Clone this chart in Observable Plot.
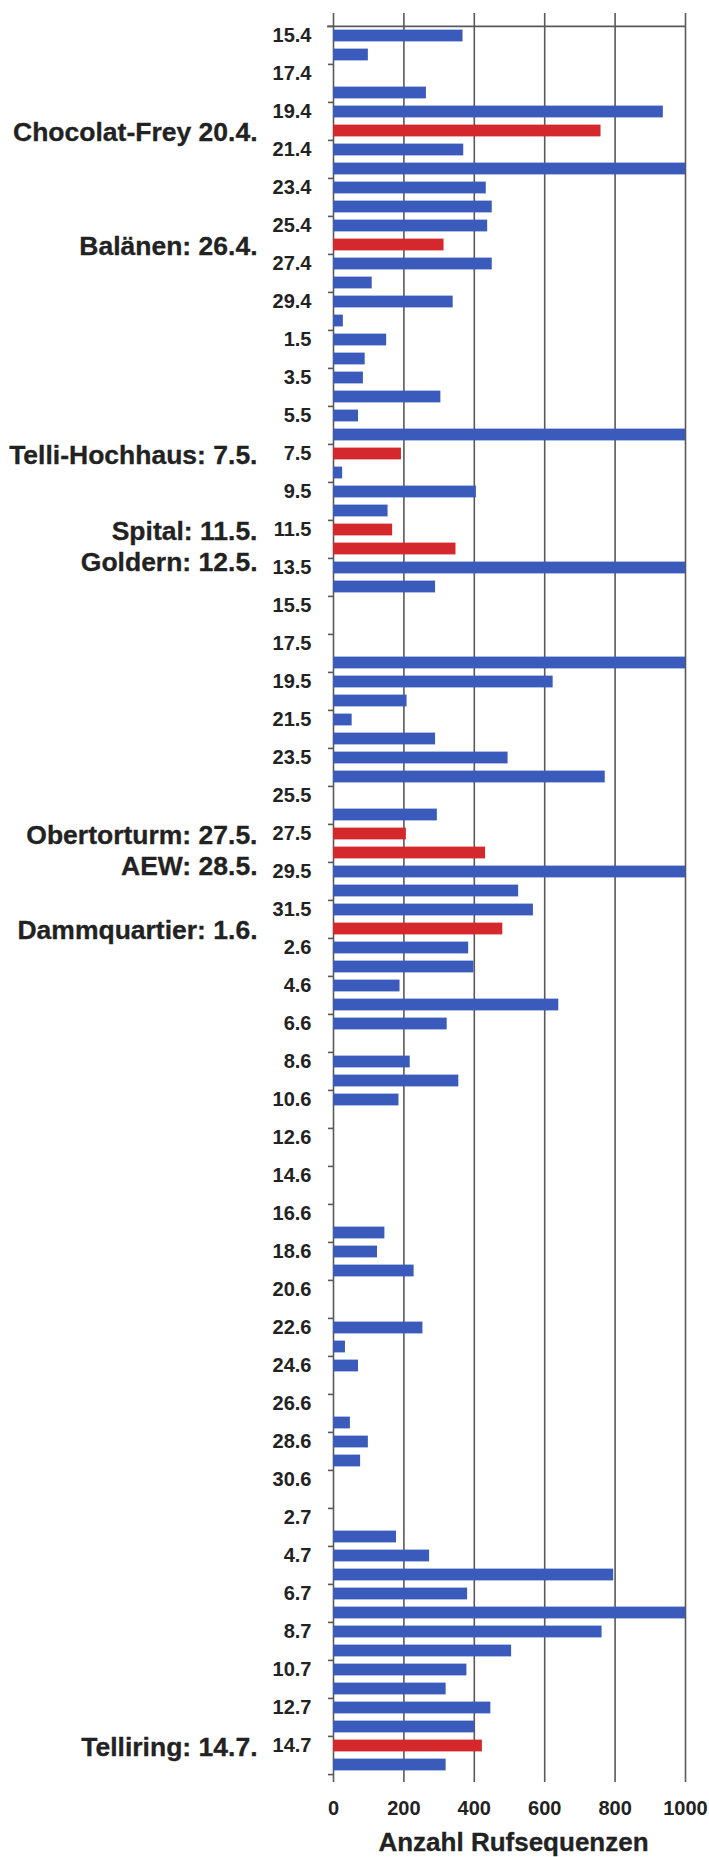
<!DOCTYPE html>
<html>
<head>
<meta charset="utf-8">
<script src="https://cdn.jsdelivr.net/npm/d3@7"></script>
<script src="https://cdn.jsdelivr.net/npm/@observablehq/plot@0.6"></script>
<style>
  html, body { margin: 0; padding: 0; background: #fff; }
  #chart svg { display: block; }
</style>
</head>
<body>
<div id="chart"></div>
<script>
// ---- data ----
const dates = [
  "15.4","16.4","17.4","18.4","19.4","20.4","21.4","22.4","23.4","24.4","25.4","26.4","27.4","28.4","29.4","30.4",
  "1.5","2.5","3.5","4.5","5.5","6.5","7.5","8.5","9.5","10.5","11.5","12.5","13.5","14.5","15.5","16.5",
  "17.5","18.5","19.5","20.5","21.5","22.5","23.5","24.5","25.5","26.5","27.5","28.5","29.5","30.5","31.5",
  "1.6","2.6","3.6","4.6","5.6","6.6","7.6","8.6","9.6","10.6","11.6","12.6","13.6","14.6","15.6",
  "16.6","17.6","18.6","19.6","20.6","21.6","22.6","23.6","24.6","25.6","26.6","27.6","28.6","29.6","30.6",
  "1.7","2.7","3.7","4.7","5.7","6.7","7.7","8.7","9.7","10.7","11.7","12.7","13.7","14.7","15.7"
];
const counts = [
  368, 99, 0, 264, 937, 760, 370, 1000, 434, 451, 438, 314, 451, 110, 340, 28,
  151, 90, 85, 305, 71, 1000, 193, 26, 406, 155, 168, 348, 1000, 290, 0, 0,
  0, 1000, 624, 209, 53, 290, 496, 772, 0, 295, 207, 432, 1000, 526, 568,
  481, 384, 399, 189, 640, 323, 0, 218, 356, 186, 0, 0, 0, 0, 0,
  0, 146, 125, 229, 0, 0, 254, 34, 71, 0, 0, 48, 99, 77, 0,
  0, 0, 179, 273, 796, 381, 1000, 763, 506, 379, 320, 447, 401, 423, 320
];
const highlighted = ["20.4","26.4","7.5","11.5","12.5","27.5","28.5","1.6","14.7"];
const yTickLabels = [
  "15.4","17.4","19.4","21.4","23.4","25.4","27.4","29.4",
  "1.5","3.5","5.5","7.5","9.5","11.5","13.5","15.5","17.5","19.5","21.5","23.5","25.5","27.5","29.5","31.5",
  "2.6","4.6","6.6","8.6","10.6","12.6","14.6","16.6","18.6","20.6","22.6","24.6","26.6","28.6","30.6",
  "2.7","4.7","6.7","8.7","10.7","12.7","14.7"
];
const xTicks = [0, 200, 400, 600, 800, 1000];
const annotationLabels = [
  "Chocolat-Frey 20.4.", "Balänen: 26.4.", "Telli-Hochhaus: 7.5.", "Spital: 11.5.",
  "Goldern: 12.5.", "Obertorturm: 27.5.", "AEW: 28.5.", "Dammquartier: 1.6.", "Telliring: 14.7."
];
const annotationDates = ["20.4","26.4","7.5","11.5","12.5","27.5","28.5","1.6","14.7"];
const loweredAnnotations = ["Goldern: 12.5.", "AEW: 28.5."];
const xTitle = "Anzahl Rufsequenzen";

// ---- layout / style ----
const W = 709, H = 1857;
const mTop = 18.4, mBottom = 75, mLeft = 333, mRight = 24;
const step = (H - mTop - mBottom) / dates.length;
const blue = "#3a5bbb", red = "#d4282c", grid = "#595959", ink = "#222";
const font = "'Liberation Sans', Arial, Helvetica, sans-serif";

const rows = dates.map((d, i) => ({date: d, count: counts[i], red: highlighted.includes(d)}));
const notes = annotationLabels.map((t, i) => ({text: t, date: annotationDates[i], lowered: loweredAnnotations.includes(t)}));

const plot = Plot.plot({
  width: W,
  height: H,
  marginTop: mTop,
  marginBottom: mBottom,
  marginLeft: mLeft,
  marginRight: mRight,
  style: {fontFamily: font, fontWeight: "bold", color: ink, background: "#fff", overflow: "visible"},
  x: {domain: [0, 1000]},
  y: {type: "band", domain: dates, padding: 0},
  marks: [
    // vertical grid lines (incl. 0 axis line), extending a little above the top border
    Plot.ruleX(xTicks, {x: d => d, stroke: grid, strokeWidth: 1.6, insetTop: -5.5}),
    // top border line
    Plot.ruleY([dates[0]], {y: d => d, x1: 0, x2: 1000, insetLeft: -6, dy: -step / 2, stroke: grid, strokeWidth: 1.6}),
    // category tick marks between categories
    Plot.ruleY(yTickLabels, {y: d => d, x1: 0, x2: 0, insetLeft: -5, dy: -step / 2, stroke: grid, strokeWidth: 1.6}),
    Plot.ruleY([dates[dates.length - 1]], {y: d => d, x1: 0, x2: 0, insetLeft: -5, dy: step / 2, stroke: grid, strokeWidth: 1.6}),
    // bars
    Plot.barX(rows.filter(d => !d.red), {y: "date", x: "count", fill: blue, insetTop: 3.6, insetBottom: 3.6}),
    Plot.barX(rows.filter(d => d.red), {y: "date", x: "count", fill: red, insetTop: 3.6, insetBottom: 3.6}),
    // axes
    Plot.axisY({ticks: yTickLabels, tickSize: 0, tickPadding: 22, fontSize: 20, label: null, fill: ink, stroke: ink, strokeWidth: 0.3}),
    Plot.axisX({ticks: xTicks, tickSize: 0, tickPadding: 18, fontSize: 20, label: null, fill: ink, stroke: ink, strokeWidth: 0.3, tickFormat: d => String(d)}),
    // annotations
    Plot.text(notes.filter(d => !d.lowered), {y: "date", text: "text", frameAnchor: "left", dx: -76, dy: 2, textAnchor: "end", fontSize: 26.5, fill: ink, stroke: ink, strokeWidth: 0.3}),
    Plot.text(notes.filter(d => d.lowered), {y: "date", text: "text", frameAnchor: "left", dx: -76, dy: 14, textAnchor: "end", fontSize: 26.5, fill: ink, stroke: ink, strokeWidth: 0.3}),
    // x title
    Plot.text([xTitle], {text: d => d, frameAnchor: "bottom", lineAnchor: "bottom", dx: 4, dy: 68, fontSize: 26, fill: ink, stroke: ink, strokeWidth: 0.3})
  ]
});

document.getElementById("chart").appendChild(plot);
</script>
</body>
</html>
